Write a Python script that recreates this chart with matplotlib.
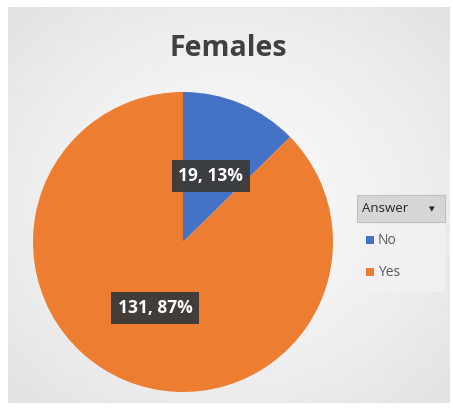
import matplotlib.pyplot as plt
import matplotlib.patches as mpatches
import numpy as np

# Data
categories = ['No', 'Yes']
counts = [19, 131]
colors = ['#4472C4', '#ED7D31']
title = 'Females'
legend_title = 'Answer'

W, H = 453, 409
fig = plt.figure(figsize=(W / 100, H / 100), dpi=100)
fig.patch.set_facecolor('white')

# Chart area background with a soft radial gradient
bg = fig.add_axes([8 / W, 6 / H, 442 / W, 396 / H])
yy, xx = np.mgrid[-1:1:200j, -1:1:200j]
rr = np.sqrt(xx ** 2 + yy ** 2)
grad = 0.975 - 0.09 * np.clip(rr / 1.4, 0, 1) ** 1.5
bg.imshow(grad, cmap='gray', vmin=0, vmax=1, aspect='auto', extent=[0, 1, 0, 1])
bg.set_xticks([])
bg.set_yticks([])
for s in bg.spines.values():
    s.set_visible(False)

# Title
fig.text(228 / W, 1 - 48 / H, title, ha='center', va='center',
         fontsize=20.5, fontweight='bold', color='#404040', family='Open Sans')

# Pie
ax = fig.add_axes([(183 - 150) / W, (409 - 392) / H, 300 / W, 300 / H])
total = sum(counts)


def label_fmt(pct):
    val = int(round(pct * total / 100))
    return f'{val}, {pct:.0f}%'


wedges, texts, autotexts = ax.pie(counts, colors=colors, startangle=90,
                                  counterclock=False, autopct=label_fmt,
                                  pctdistance=0.48,
                                  wedgeprops=dict(linewidth=0))
for t in autotexts:
    t.set_color('white')
    t.set_fontweight('bold')
    t.set_fontsize(12.5)
    t.set_family('Open Sans')
    t.set_bbox(dict(boxstyle='square,pad=0.4', facecolor='#3a3a3a',
                    edgecolor='none', alpha=0.95))
ax.set_aspect('equal')
ax.set_xlim(-1, 1)
ax.set_ylim(-1, 1)
ax.axis('off')

# Legend (pivot-style field button + entries)
lx0 = 357
fig.patches.append(mpatches.Rectangle((lx0 / W, 1 - 292 / H), 88 / W, 97 / H,
                                      transform=fig.transFigure,
                                      facecolor='#f2f2f2', edgecolor='none', alpha=0.8))
fig.patches.append(mpatches.Rectangle((lx0 / W, 1 - 222 / H), 88 / W, 27 / H,
                                      transform=fig.transFigure,
                                      facecolor='#d6d6d6', edgecolor='#c0c0c0', lw=0.8))
fig.text(362 / W, 1 - 209 / H, legend_title, ha='left', va='center',
         fontsize=9.5, color='#262626', family='Open Sans')
fig.text(432 / W, 1 - 209 / H, '▾', ha='center', va='center',
         fontsize=8, color='#262626', family='DejaVu Sans')

for i, (cat, col) in enumerate(zip(categories, colors)):
    y = 240 + i * 32
    fig.patches.append(mpatches.Rectangle((366 / W, 1 - (y + 4) / H), 8 / W, 8 / H,
                                          transform=fig.transFigure,
                                          facecolor=col, edgecolor='none'))
    fig.text(378 / W, 1 - y / H, cat, ha='left', va='center',
             fontsize=10, color='#595959', family='Open Sans')

fig.savefig('out.png', dpi=100)
